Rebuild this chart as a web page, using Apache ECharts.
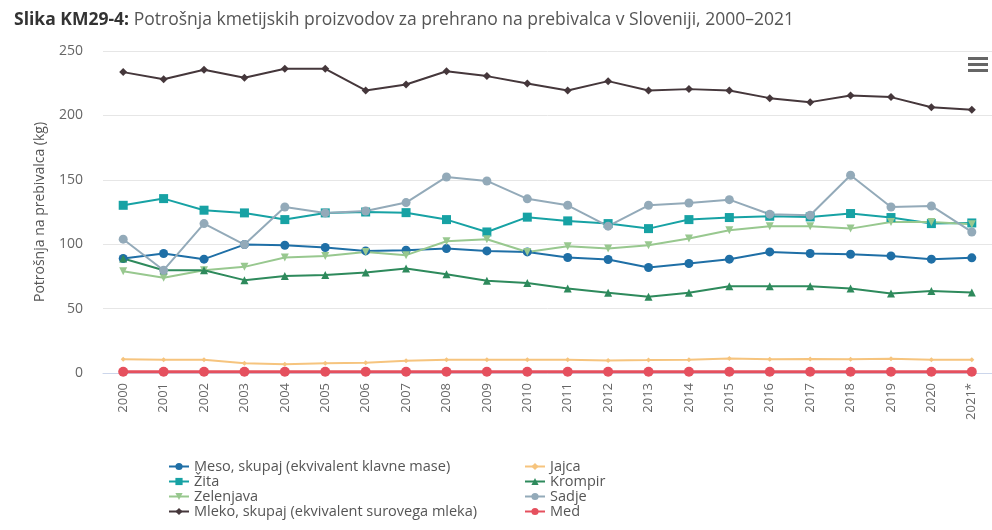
<!DOCTYPE html>
<html>
<head>
<meta charset="utf-8">
<script src="https://cdn.jsdelivr.net/npm/echarts@6/dist/echarts.min.js"></script>
<style>
  html, body { margin: 0; padding: 0; background: #fff; }
  #main { width: 992px; height: 530px; }
</style>
</head>
<body>
<div id="main"></div>
<script>
const years = ['2000', '2001', '2002', '2003', '2004', '2005', '2006', '2007', '2008', '2009', '2010',
    '2011', '2012', '2013', '2014', '2015', '2016', '2017', '2018', '2019', '2020', '2021*'];

const meso = [88.9, 92.8, 88.4, 99.7, 99.2, 97.4, 94.8, 95.3, 96.6, 94.8, 94.0,
    89.7, 88.1, 81.9, 85.0, 88.4, 94.0, 92.8, 92.2, 90.9, 88.4, 89.4];
const zita = [130.2, 135.4, 126.4, 124.3, 119.1, 124.3, 125.0, 124.5, 119.1, 109.5, 121.0,
    118.1, 116.0, 112.1, 119.1, 120.7, 121.7, 121.2, 123.8, 120.7, 116.0, 116.5];
const zelenjava = [79.0, 73.9, 79.8, 82.4, 89.7, 90.9, 94.0, 91.5, 102.3, 103.9, 94.0,
    98.4, 96.6, 99.2, 104.4, 110.9, 114.0, 114.0, 112.1, 117.3, 117.3, 115.5];
const mleko = [233.6, 228.0, 235.4, 229.2, 236.2, 236.2, 219.4, 224.0, 234.3, 230.5, 224.8,
    219.4, 226.6, 219.4, 220.4, 219.4, 213.4, 210.3, 215.5, 214.2, 206.4, 204.4];
const jajca = [10.6, 10.3, 10.3, 7.5, 6.8, 7.5, 8.0, 9.5, 10.3, 10.3, 10.3,
    10.3, 9.8, 10.0, 10.3, 11.2, 10.6, 10.8, 10.6, 11.0, 10.3, 10.3];
const krompir = [88.9, 79.8, 79.8, 72.1, 75.4, 76.0, 78.0, 81.1, 76.7, 71.6, 69.8,
    65.6, 62.3, 59.2, 62.3, 67.4, 67.4, 67.4, 65.6, 61.8, 63.6, 62.5];
const sadje = [103.9, 79.8, 116.0, 99.7, 128.9, 124.3, 125.8, 132.3, 152.2, 149.1, 135.2,
    130.2, 114.0, 130.2, 132.0, 134.6, 123.3, 122.5, 153.5, 128.9, 129.7, 109.5];
const med = [1.0, 1.0, 1.0, 1.0, 1.0, 1.0, 1.0, 1.0, 1.0, 1.0, 1.0,
    1.0, 1.0, 1.0, 1.0, 1.0, 1.0, 1.0, 1.0, 1.0, 1.0, 1.0];

const yTicks = [0, 50, 100, 150, 200, 250];

const seriesDefs = [
    { name: 'Meso, skupaj (ekvivalent klavne mase)', data: meso, color: '#1f6fa6', symbol: 'circle', size: 9 },
    { name: 'Žita', data: zita, color: '#17a2a4', symbol: 'rect', size: 9 },
    { name: 'Zelenjava', data: zelenjava, color: '#98c88f', symbol: 'triangle', rotate: 180, size: 8 },
    { name: 'Mleko, skupaj (ekvivalent surovega mleka)', data: mleko, color: '#45373b', symbol: 'diamond', size: 8 },
    { name: 'Jajca', data: jajca, color: '#f6c47e', symbol: 'diamond', size: 5 },
    { name: 'Krompir', data: krompir, color: '#2e8a5c', symbol: 'triangle', size: 8 },
    { name: 'Sadje', data: sadje, color: '#93aab9', symbol: 'circle', size: 9 },
    { name: 'Med', data: med, color: '#e5505e', symbol: 'circle', size: 10, width: 3 }
];

const fontFamily = '"Open Sans", "Noto Sans", sans-serif';

let myChart = echarts.init(document.getElementById('main'));

let legendText = { color: '#555', fontSize: 14.5, fontFamily: fontFamily, lineHeight: 15 };

let option = {
    animation: false,
    textStyle: { fontFamily: fontFamily },
    title: {
        text: '{b|Slika KM29-4:} {n|Potrošnja kmetijskih proizvodov za prehrano na prebivalca v Sloveniji, 2000–2021}',
        left: 9,
        top: 6,
        textStyle: {
            fontWeight: 'normal',
            rich: {
                b: { fontSize: 17.5, fontWeight: 'bold', color: '#333', fontFamily: fontFamily },
                n: { fontSize: 17.5, fontWeight: 'normal', color: '#555', fontFamily: fontFamily }
            }
        }
    },
    legend: [
        {
            data: seriesDefs.slice(0, 4).map(s => s.name),
            orient: 'vertical',
            left: 163,
            top: 454,
            itemWidth: 20,
            itemHeight: 9,
            itemGap: 0,
            textStyle: legendText
        },
        {
            data: seriesDefs.slice(4).map(s => s.name),
            orient: 'vertical',
            left: 519,
            top: 454,
            itemWidth: 20,
            itemHeight: 9,
            itemGap: 0,
            textStyle: legendText
        }
    ],
    grid: {
        left: 103,
        right: -2,
        top: 51,
        bottom: 157,
        containLabel: false
    },
    xAxis: {
        type: 'category',
        data: years,
        boundaryGap: true,
        axisLine: { lineStyle: { color: '#ccd6eb' } },
        axisTick: { show: false },
        axisLabel: {
            rotate: 90,
            margin: 10,
            color: '#666',
            fontSize: 13,
            interval: 0
        }
    },
    yAxis: {
        type: 'value',
        min: yTicks[0],
        max: yTicks[yTicks.length - 1],
        interval: 50,
        name: 'Potrošnja na prebivalca (kg)',
        nameLocation: 'middle',
        nameGap: 56,
        nameTextStyle: { color: '#555', fontSize: 14 },
        axisLabel: { color: '#666', fontSize: 14, margin: 20 },
        splitLine: { lineStyle: { color: '#e6e6e6', width: 1 } }
    },
    graphic: [
        {
            type: 'group',
            right: 4,
            top: 57,
            children: [
                { type: 'rect', shape: { x: 0, y: 0, width: 20, height: 3 }, style: { fill: '#666' } },
                { type: 'rect', shape: { x: 0, y: 6, width: 20, height: 3 }, style: { fill: '#666' } },
                { type: 'rect', shape: { x: 0, y: 12, width: 20, height: 3 }, style: { fill: '#666' } }
            ]
        }
    ],
    series: seriesDefs.map(s => ({
        name: s.name,
        type: 'line',
        data: s.data,
        symbol: s.symbol,
        symbolSize: s.size,
        symbolRotate: s.rotate || 0,
        showAllSymbol: true,
        itemStyle: { color: s.color },
        lineStyle: { color: s.color, width: s.width || 2 }
    }))
};

myChart.setOption(option);
</script>
</body>
</html>
